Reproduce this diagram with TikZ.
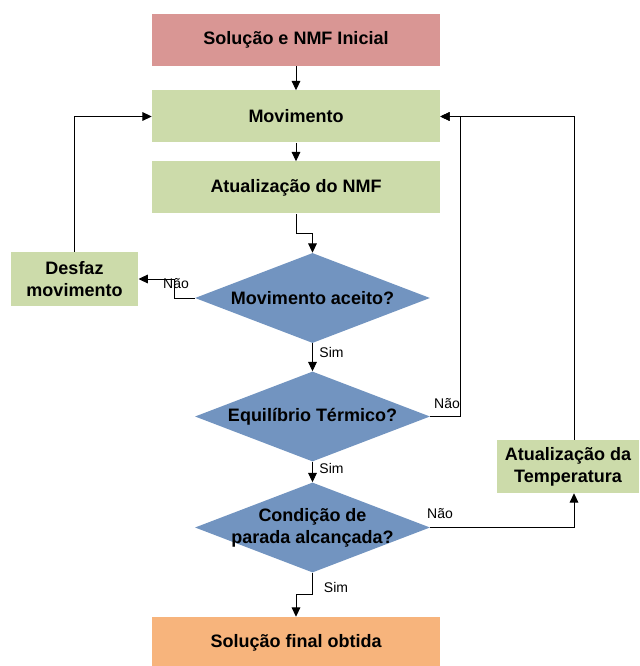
\documentclass[tikz,border=0pt]{standalone}
\usepackage{fontspec}
\setmainfont{Liberation Sans}
\usetikzlibrary{shapes.geometric,arrows.meta,calc}
\definecolor{inicio}{HTML}{D99694}
\definecolor{passo}{HTML}{CCDBAA}
\definecolor{teste}{HTML}{7294C0}
\definecolor{fim}{HTML}{F7B47C}

\begin{document}
\begin{tikzpicture}[x=0.75pt,y=-0.75pt,
font=\fontsize{13.5}{16.5}\selectfont\bfseries,
box/.style={rectangle, fill=passo, minimum width=216pt, minimum height=39pt, inner sep=0pt},
small/.style={rectangle, fill=passo, align=center, inner sep=0pt},
decision/.style={diamond, fill=teste, minimum width=176.25pt, minimum height=67.5pt, inner sep=0pt,
    label={[align=center]center:#1}},
flow/.style={draw, line width=0.75pt, -{Triangle[length=7pt,width=6.5pt]}},
tag/.style={font=\fontsize{10.5}{12}\selectfont, inner sep=0pt}]
\useasboundingbox (0,0) rectangle (639,666);
\node[box, fill=inicio] (init) at (296,40) {Solução e NMF Inicial};
\node[box] (mov) at (296,116.5) {Movimento};
\node[box] (nmf) at (296,187.5) {Atualização do NMF};
\node[decision={Movimento aceito?}] (d1) at (312.5,298) {};
\node[decision={Equilíbrio Térmico?}] (d2) at (312.5,416.5) {};
\node[decision={Condição de\\parada alcançada?}] (d3) at (312.5,527.5) {};
\node[small, minimum width=95.6pt, minimum height=40.5pt] (desfaz) at (74.5,279) {Desfaz\\movimento};
\node[small, minimum width=106.5pt, minimum height=39.75pt] (temp) at (568,466.5) {Atualização da\\Temperatura};
\node[box, fill=fim] (final) at (296,643) {Solução final obtida};
\coordinate (k1) at ($(nmf.south)!.5!(d1.north)$);
\coordinate (k2) at ($(d3.south)!.5!(final.north)$);
\draw[flow] (init) -- (mov);
\draw[flow] (mov) -- (nmf);
\draw[flow] (nmf.south) |- (k1) -| (d1.north);
\draw[flow] (d1.west) -- ++(-20,0) |- (desfaz.east);
\draw[flow] (desfaz.north) |- (mov.west);
\draw[flow] (d1.south) -- (d2.north);
\draw[flow] (d2.east) -- ++(30,0) |- (mov.east);
\draw[flow] (d2.south) -- (d3.north);
\draw[flow] (d3.east) -| ([xshift=4.5pt]temp.south);
\draw[flow] ([xshift=4.5pt]temp.north) |- (mov.east);
\draw[flow] (d3.south) |- (k2) -| (final.north);
\node[tag] (nao1) at (176,284) {Não};
\node[tag] (sim1) at (331.5,352) {Sim};
\node[tag] (nao2) at (447,404) {Não};
\node[tag] (sim2) at (331.5,468) {Sim};
\node[tag] (nao3) at (440,514) {Não};
\node[tag] (sim3) at (336,587) {Sim};
\end{tikzpicture}
\end{document}
